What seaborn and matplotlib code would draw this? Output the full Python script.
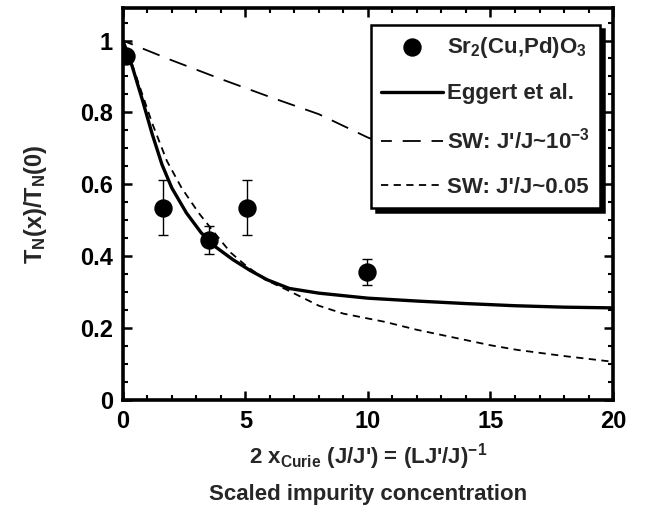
import numpy as np
import pandas as pd
import matplotlib
matplotlib.use("Agg")
import matplotlib.pyplot as plt
import seaborn as sns

# ---- data ----
exp_x = [0.15, 1.63, 3.52, 5.08, 9.98]
exp_y = [0.957, 0.535, 0.445, 0.535, 0.355]
exp_err = [0.0, 0.076, 0.040, 0.076, 0.036]

eggert_x = [0.0, 0.2, 0.4, 0.8, 1.2, 1.6, 2.0, 2.6, 3.2, 3.8, 4.5, 5.2, 5.9, 6.8, 8.0, 9.0, 10.0, 12.0, 14.0, 16.0, 18.0, 20.0]
eggert_y = [1.0, 0.965, 0.925, 0.835, 0.74, 0.655, 0.59, 0.52, 0.465, 0.425, 0.39, 0.36, 0.334, 0.31, 0.297, 0.29, 0.283, 0.275, 0.268, 0.262, 0.258, 0.256]

sw1_x = [0.0, 2.0, 4.0, 6.0, 8.0, 10.0, 12.0, 14.0, 16.0]
sw1_y = [1.0, 0.945, 0.893, 0.843, 0.795, 0.73, 0.68, 0.64, 0.60]

sw2_x = [0.0, 0.4, 0.8, 1.2, 1.8, 2.4, 3.1, 3.8, 4.4, 5.0, 5.8, 6.7, 8.0, 9.0, 10.7, 12.0, 13.4, 15.0, 16.1, 18.0, 20.0]
sw2_y = [1.0, 0.93, 0.85, 0.77, 0.665, 0.59, 0.52, 0.46, 0.41, 0.375, 0.335, 0.306, 0.262, 0.24, 0.217, 0.195, 0.175, 0.152, 0.139, 0.122, 0.106]

legend_labels = [r"Sr$_{\mathbf{2}}$(Cu,Pd)O$_{\mathbf{3}}$",
                 "Eggert et al.",
                 r"SW: J'/J~10$^{\mathbf{-3}}$",
                 "SW: J'/J~0.05"]

sns.set_style("ticks")
plt.rcParams["font.family"] = ["Liberation Sans", "DejaVu Sans"]
plt.rcParams["font.weight"] = "bold"
plt.rcParams["mathtext.fontset"] = "custom"
plt.rcParams["mathtext.rm"] = "Liberation Sans:bold"
plt.rcParams["mathtext.bf"] = "Liberation Sans:bold"
plt.rcParams["mathtext.default"] = "bf"

fig = plt.figure(figsize=(6.46, 5.12), dpi=100)
ax = fig.add_axes([0.190, 0.219, 0.759, 0.765])

df_e = pd.DataFrame({"x": eggert_x, "y": eggert_y})
df_1 = pd.DataFrame({"x": sw1_x, "y": sw1_y})
df_2 = pd.DataFrame({"x": sw2_x, "y": sw2_y})

sns.lineplot(data=df_1, x="x", y="y", ax=ax, color="black", lw=1.3,
             linestyle=(4, (10, 6)), sort=False, label=legend_labels[2])
sns.lineplot(data=df_2, x="x", y="y", ax=ax, color="black", lw=1.3,
             linestyle=(0, (4, 3)), sort=False, label=legend_labels[3])
sns.lineplot(data=df_e, x="x", y="y", ax=ax, color="black", lw=2.4,
             sort=False, label=legend_labels[1])
ax.errorbar(exp_x, exp_y, yerr=exp_err, fmt="none", ecolor="black",
            elinewidth=1.0, capsize=3.5, capthick=1.0, zorder=4)
sns.scatterplot(x=exp_x, y=exp_y, ax=ax, color="black", s=150,
                edgecolor="black", zorder=5, label=legend_labels[0])

ax.set_xlim(0, 20)
ax.set_ylim(0, 1.09)
ax.set_xticks([0, 5, 10, 15, 20])
ax.set_xticks(np.arange(0, 21, 1), minor=True)
ax.set_yticks([0, 0.2, 0.4, 0.6, 0.8, 1.0])
ax.set_yticklabels(["0", "0.2", "0.4", "0.6", "0.8", "1"])
ax.set_yticks(np.arange(0, 1.09, 0.05), minor=True)

for s in ax.spines.values():
    s.set_visible(True)
    s.set_linewidth(2.6)
    s.set_color("black")
ax.tick_params(which="both", direction="in", top=True, right=True,
               colors="black", labelsize=17)
ax.tick_params(which="major", length=6.5, width=1.8, pad=7)
ax.tick_params(which="minor", length=3.5, width=1.5)
for lab in ax.get_xticklabels() + ax.get_yticklabels():
    lab.set_fontweight("bold")

ax.set_ylabel(r"T$_{\mathbf{N}}$(x)/T$_{\mathbf{N}}$(0)", fontsize=17,
              fontweight="bold", labelpad=22)
ax.set_xlabel("2 x$_{\\mathbf{Curie}}$ (J/J') = (LJ'/J)$^{\\mathbf{-1}}$\nScaled impurity concentration",
              fontsize=16, fontweight="bold", labelpad=6, linespacing=1.75)

handles, labels = ax.get_legend_handles_labels()
order = [labels.index(l) for l in legend_labels]
leg = ax.legend([handles[i] for i in order], [labels[i] for i in order],
                loc="upper right", bbox_to_anchor=(0.973, 0.957),
                borderaxespad=0.0,
                prop={"family": "Liberation Sans", "weight": "bold", "size": 16},
                frameon=True, fancybox=False,
                edgecolor="black", framealpha=1, handlelength=2.75,
                handletextpad=0.2, labelspacing=1.05, borderpad=0.45,
                shadow={"ox": 3, "oy": -3, "color": "black", "alpha": 1})
leg.get_frame().set_linewidth(1.8)

fig.savefig("out.png", dpi=100, facecolor="white")
